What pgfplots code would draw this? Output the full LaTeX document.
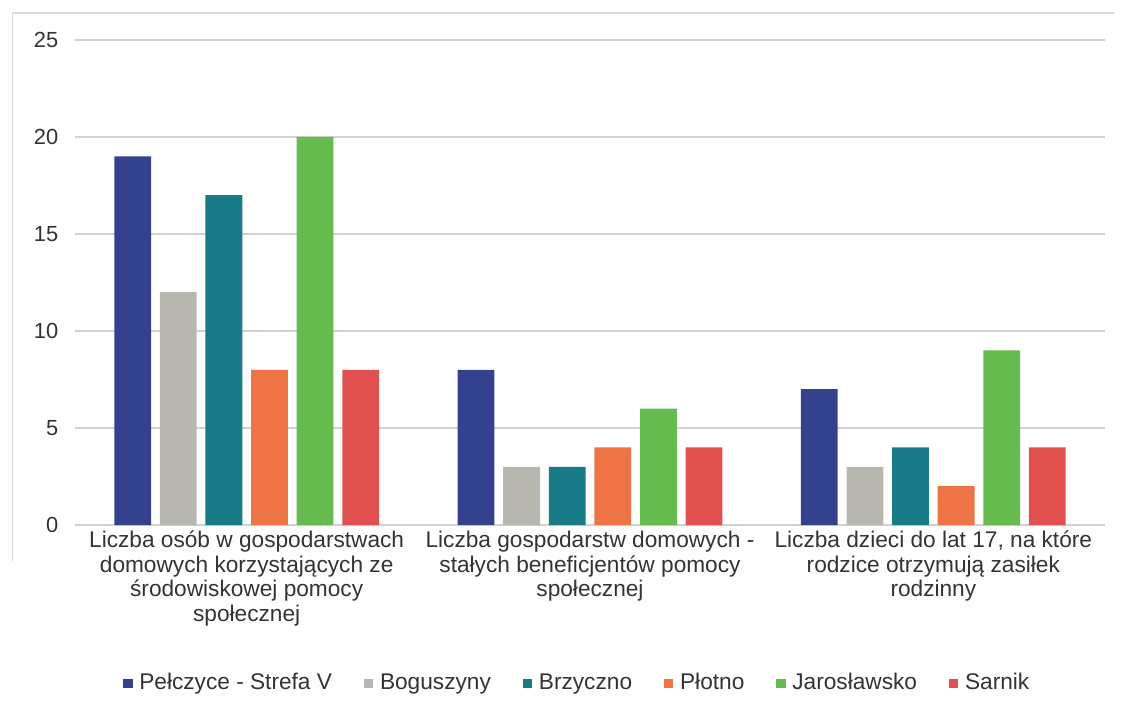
\documentclass[border=0pt]{standalone}
\usepackage{pgfplots}
\pgfplotsset{compat=1.18}
\usepackage{fontspec}
\setmainfont{Liberation Sans}
\definecolor{cBlue}{HTML}{33418E}
\definecolor{cGray}{HTML}{B7B7B0}
\definecolor{cTeal}{HTML}{187B87}
\definecolor{cOrange}{HTML}{EE7446}
\definecolor{cGreen}{HTML}{66BB4F}
\definecolor{cRed}{HTML}{E05150}
\definecolor{txt}{HTML}{333333}
\begin{document}
\begin{tikzpicture}
\path[use as bounding box] (-56.25pt,-141pt) rectangle (786pt,393.75pt);
\draw[gray!30, line width=0.8pt] (-47pt,-27pt) -- (-47pt,384pt) -- (780pt,384pt);
\begin{axis}[
  at={(0,0)}, anchor=south west,
  scale only axis,
  width=772.5pt, height=363.75pt,
  ybar=6.6pt, bar width=27.6pt,
  xmin=-0.5, xmax=2.5,
  ymin=0, ymax=25,
  ytick={0,5,...,25},
  xtick={0,1,2},
  xticklabels={{Liczba osób w gospodarstwach\\domowych korzystających ze\\środowiskowej pomocy\\społecznej},
               {Liczba gospodarstw domowych -\\stałych beneficjentów pomocy\\społecznej},
               {Liczba dzieci do lat 17, na które\\rodzice otrzymują zasiłek\\rodzinny}},
  xticklabel style={align=center, font=\fontsize{17}{18.4}\selectfont, text=txt, yshift=-1pt},
  yticklabel style={font=\fontsize{16.4}{18}\selectfont, text=txt, xshift=-9pt},
  /pgf/number format/assume math mode=true,
  axis x line*=bottom, axis y line*=left,
  axis line style={draw=none},
  ymajorgrids, grid style={draw=gray!35, line width=0.9pt},
  major tick length=0pt,
  legend style={at={(0.488,-0.325)}, anchor=center, draw=none, fill=none,
    legend columns=6, font=\fontsize{17}{18}\selectfont, text=txt,
    /tikz/every odd column/.append style={column sep=3pt},
    /tikz/every even column/.append style={column sep=22pt}},
  legend image code/.code={\fill[#1] (2pt,-4pt) rectangle (9pt,3pt);},
]
\addplot[fill=cBlue, draw=none] coordinates {(0,19) (1,8) (2,7)};
\addplot[fill=cGray, draw=none] coordinates {(0,12) (1,3) (2,3)};
\addplot[fill=cTeal, draw=none] coordinates {(0,17) (1,3) (2,4)};
\addplot[fill=cOrange, draw=none] coordinates {(0,8) (1,4) (2,2)};
\addplot[fill=cGreen, draw=none] coordinates {(0,20) (1,6) (2,9)};
\addplot[fill=cRed, draw=none] coordinates {(0,8) (1,4) (2,4)};
\legend{Pełczyce - Strefa V, Boguszyny, Brzyczno, Płotno, Jarosławsko, Sarnik}
\end{axis}
\end{tikzpicture}
\end{document}
